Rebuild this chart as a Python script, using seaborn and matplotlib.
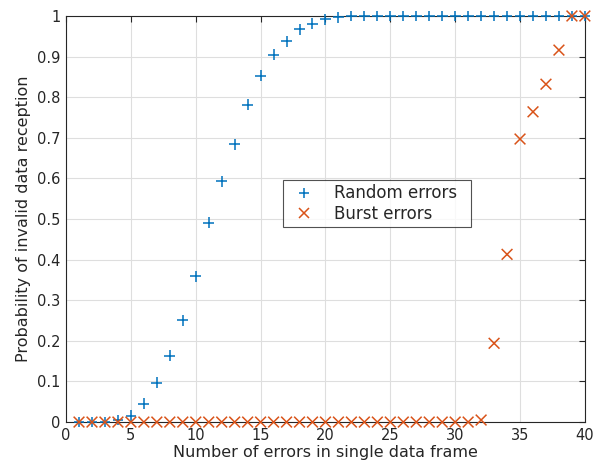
import matplotlib
matplotlib.use("Agg")
import matplotlib.pyplot as plt
import seaborn as sns
import numpy as np
import pandas as pd

# number of errors in a frame
n_errors = list(range(1, 41))

# probability of invalid reception
random_errors = [0, 0, 0, 0.005, 0.016, 0.045, 0.097, 0.163, 0.251, 0.359,
                 0.491, 0.593, 0.684, 0.782, 0.853, 0.905, 0.938, 0.967, 0.981, 0.992,
                 0.997, 1, 1, 1, 1, 1, 1, 1, 1, 1,
                 1, 1, 1, 1, 1, 1, 1, 1, 1, 1]
burst_errors = [0] * 31 + [0.005, 0.194, 0.413, 0.697, 0.764, 0.832, 0.916, 1, 1]

df = pd.DataFrame({"n": n_errors * 2,
                   "p": random_errors + burst_errors,
                   "kind": ["Random errors"] * 40 + ["Burst errors"] * 40})

sns.set_style("whitegrid")
plt.rcParams["font.family"] = ["DejaVu Sans"]

fig = plt.figure(figsize=(5.95, 4.7), dpi=100)
ax = fig.add_axes([0.111, 0.102, 0.872, 0.864])

sns.scatterplot(data=df, x="n", y="p", hue="kind", style="kind",
                markers={"Random errors": "+", "Burst errors": "x"},
                palette={"Random errors": "#0072BD", "Burst errors": "#D95319"},
                s=60, linewidth=1.1, ax=ax, clip_on=False, zorder=3)

ax.set_xlim(0, 40)
ax.set_ylim(0, 1)
ax.set_xticks(np.arange(0, 41, 5))
ax.set_yticks(np.arange(0, 1.01, 0.1))
ax.set_yticklabels(["0"] + [f"{v:.1f}" for v in np.arange(0.1, 0.95, 0.1)] + ["1"])
ax.grid(True, color="#dedede", linewidth=0.8)
for s in ax.spines.values():
    s.set_visible(True)
    s.set_color("#262626")
    s.set_linewidth(0.8)
ax.tick_params(direction="in", top=True, right=True, length=4, width=0.8, color="#262626",
               labelsize=10.5, labelcolor="#262626", pad=4)
ax.set_xlabel("Number of errors in single data frame", fontsize=11.5, color="#262626", labelpad=2)
ax.set_ylabel("Probability of invalid data reception", fontsize=11.5, color="#262626", labelpad=4)

leg = ax.legend(loc="lower left", bbox_to_anchor=(0.418, 0.48, 0.362, 0.12), mode="expand",
                borderaxespad=0, fontsize=12, frameon=True, fancybox=False, handletextpad=0.8,
                borderpad=0.25, labelspacing=0.15, markerscale=0.85)
leg.get_frame().set_edgecolor("#262626")
leg.get_frame().set_linewidth(0.8)

fig.savefig("out.png", dpi=100)
